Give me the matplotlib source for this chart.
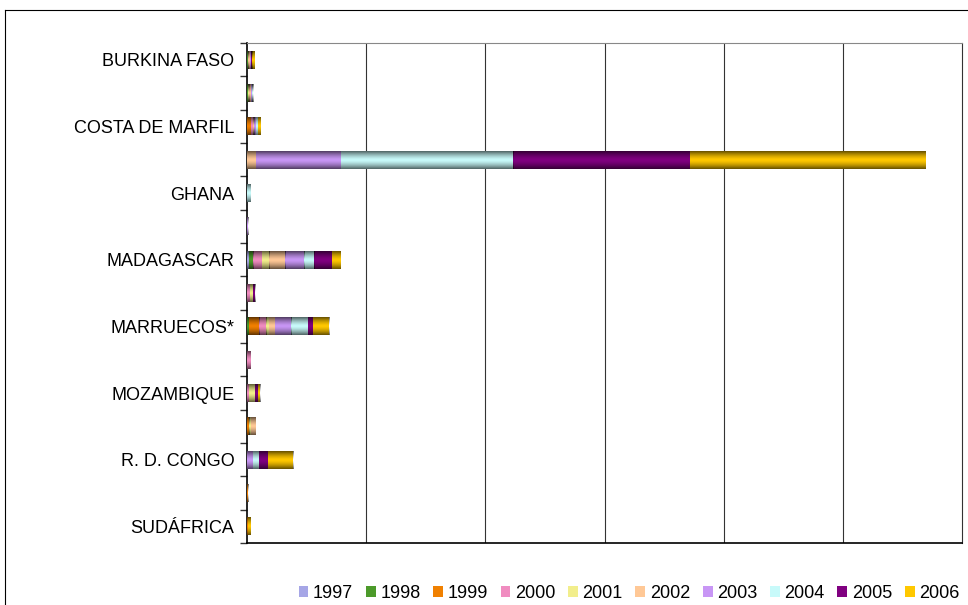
import matplotlib
matplotlib.use('Agg')
import matplotlib.pyplot as plt
from matplotlib.lines import Line2D
import numpy as np

plt.rcParams['font.family'] = ['Liberation Sans', 'DejaVu Sans']

# rows from top to bottom, only every other one carries a label
countries = ['BURKINA FASO', '', 'COSTA DE MARFIL', '', 'GHANA', '', 'MADAGASCAR', '',
             'MARRUECOS*', '', 'MOZAMBIQUE', '', 'R. D. CONGO', '', 'SUDÁFRICA']
years = ['1997', '1998', '1999', '2000', '2001', '2002', '2003', '2004', '2005', '2006']

y1997 = [0, 0, 0, 0, 0, 0, 0.015, 0, 0, 0, 0, 0, 0, 0, 0]
y1998 = [0.01, 0.01, 0, 0, 0, 0, 0.035, 0, 0.015, 0, 0, 0, 0, 0, 0]
y1999 = [0, 0, 0.03, 0, 0, 0, 0, 0, 0.085, 0, 0, 0.02, 0, 0.012, 0.005]
y2000 = [0, 0, 0.02, 0, 0, 0, 0.075, 0.025, 0.06, 0.03, 0.015, 0, 0, 0, 0]
y2001 = [0, 0.01, 0, 0, 0, 0, 0.06, 0.025, 0.025, 0, 0.05, 0.015, 0, 0, 0]
y2002 = [0.015, 0.01, 0.01, 0.075, 0, 0, 0.135, 0, 0.05, 0, 0, 0.04, 0, 0, 0]
y2003 = [0.01, 0.01, 0.015, 0.71, 0, 0.01, 0.16, 0, 0.135, 0, 0, 0, 0.05, 0, 0]
y2004 = [0, 0.01, 0.015, 1.45, 0.03, 0, 0.085, 0, 0.14, 0, 0, 0, 0.05, 0, 0]
y2005 = [0.01, 0, 0, 1.48, 0, 0, 0.15, 0.02, 0.04, 0, 0.025, 0, 0.075, 0, 0]
y2006 = [0.02, 0, 0.025, 1.98, 0, 0, 0.075, 0, 0.135, 0, 0.02, 0, 0.21, 0, 0.025]
series = [y1997, y1998, y1999, y2000, y2001, y2002, y2003, y2004, y2005, y2006]

colors = ['#A6A6E6', '#4C9A2A', '#F08000', '#F08CC0', '#F2EE8C',
          '#FFC896', '#C896F5', '#C8FAFA', '#800080', '#FFC800']

fig = plt.figure(figsize=(9.68, 6.05), dpi=100)
ax = fig.add_axes([247 / 968, 1 - 543 / 605, 715 / 968, 500 / 605])

pos = np.arange(len(countries))
left = np.zeros(len(countries))
bars = []
for vals, col, yr in zip(series, colors, years):
    b = ax.barh(pos, vals, left=left, height=0.54, color=col, label=yr, zorder=3)
    bars.append(b)
    left = left + np.array(vals)

# darker top/bottom edges like the excel gradient fill
prof = np.abs(np.linspace(-1, 1, 40)) ** 1.5 * 0.6
shade = np.zeros((40, 1, 4))
shade[:, 0, 3] = prof
for b in bars:
    for p in b.patches:
        if p.get_width() <= 0:
            continue
        x0, y0, w, h = p.get_x(), p.get_y(), p.get_width(), p.get_height()
        ax.imshow(shade, extent=(x0, x0 + w, y0 + h, y0), aspect='auto',
                  interpolation='bilinear', zorder=4)

ax.set_xlim(0, 6)
ax.set_ylim(len(countries) - 0.5, -0.5)
ax.set_aspect('auto')

ax.set_xticks([1, 2, 3, 4, 5])
ax.set_xticklabels([])
ax.tick_params(axis='x', length=0)
ax.grid(axis='x', color='#333333', linewidth=0.8, zorder=0)

ax.set_yticks(pos)
ax.set_yticklabels(countries, fontsize=13)
ax.tick_params(axis='y', which='major', length=0, pad=9)
ax.set_yticks(np.arange(len(countries) + 1) - 0.5, minor=True)
ax.tick_params(axis='y', which='minor', length=5, width=1, color='#333333')

ax.spines['top'].set_color('#888888')
ax.spines['right'].set_color('#333333')
ax.spines['left'].set_linewidth(1.2)
ax.spines['bottom'].set_linewidth(1.2)
for s in ['top', 'right']:
    ax.spines[s].set_linewidth(0.8)

# outer chart border
fig.add_artist(Line2D([5 / 968, 5 / 968], [0, 1 - 10 / 605], color='black', lw=0.8))
fig.add_artist(Line2D([5 / 968, 1], [1 - 10 / 605, 1 - 10 / 605], color='black', lw=0.8))

fig.legend(loc='center', bbox_to_anchor=(629 / 968, 1 - 593 / 605), ncol=10,
           frameon=False, fontsize=13, handlelength=0.55, handleheight=0.55,
           handletextpad=0.25, columnspacing=0.7, borderaxespad=0)

fig.savefig('out.png', dpi=100)
